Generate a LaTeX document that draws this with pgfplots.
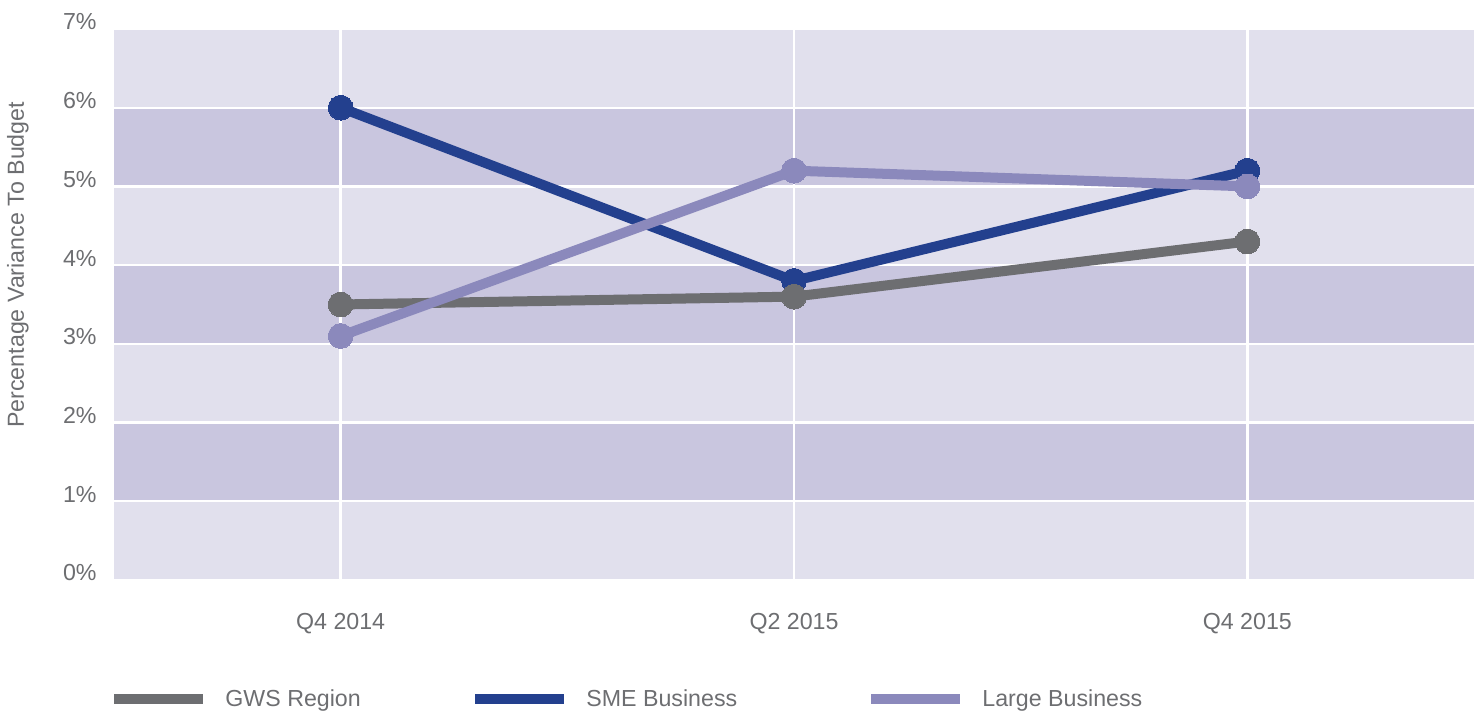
\documentclass[border=0pt]{standalone}
\usepackage{fontspec}
\setmainfont{Liberation Sans}
\usepackage{pgfplots}
\pgfplotsset{compat=1.18}
\usetikzlibrary{calc}
\definecolor{gws}{HTML}{6D6E71}
\definecolor{sme}{HTML}{23408E}
\definecolor{large}{HTML}{8B89BC}
\definecolor{bandlight}{HTML}{E1E0ED}
\definecolor{banddark}{HTML}{C9C6DF}
\definecolor{txt}{HTML}{6D6E71}
\newcommand{\lfont}{\fontsize{11.6pt}{13pt}\selectfont}
\begin{document}
\begin{tikzpicture}
\begin{axis}[name=ax, set layers=standard, scale only axis,
  width=680pt, height=275.5pt,
  xmin=-0.5, xmax=2.5, ymin=0, ymax=7,
  xtick={0,1,2}, xticklabels={Q4 2014, Q2 2015, Q4 2015},
  ytick={0,1,2,3,4,5,6,7},
  yticklabels={0\%,1\%,2\%,3\%,4\%,5\%,6\%,7\%},
  major tick length=0pt, axis line style={draw=none},
  grid=major, grid style={white, line width=1.2pt},
  every tick label/.append style={font=\lfont, text=txt},
  yticklabel style={anchor=east, inner sep=0pt, xshift=-8.5pt, yshift=3.5pt},
  xticklabel style={anchor=base, inner sep=0pt, yshift=-25pt},
  ylabel={Percentage Variance To Budget},
  ylabel style={at={(axis description cs:-0.0706,0.572)}, anchor=center, font=\lfont, text=txt},
  legend columns=3,
  legend cell align=left,
  legend image code/.code={\draw[#1, line width=5pt] (0pt,0.3pt) -- (44.5pt,0.3pt);},
  legend style={at={(axis description cs:0,-0.2178)}, anchor=west, xshift=-2.5pt, draw=none, fill=none,
    inner sep=0pt, column sep=0pt, row sep=0pt,
    nodes={inner sep=0pt, text=txt, font=\lfont}},
]
\begin{pgfonlayer}{axis background}
\fill[bandlight] (axis cs:-0.5,0) rectangle (axis cs:2.5,1);
\fill[banddark]  (axis cs:-0.5,1) rectangle (axis cs:2.5,2);
\fill[bandlight] (axis cs:-0.5,2) rectangle (axis cs:2.5,3);
\fill[banddark]  (axis cs:-0.5,3) rectangle (axis cs:2.5,4);
\fill[bandlight] (axis cs:-0.5,4) rectangle (axis cs:2.5,5);
\fill[banddark]  (axis cs:-0.5,5) rectangle (axis cs:2.5,6);
\fill[bandlight] (axis cs:-0.5,6) rectangle (axis cs:2.5,7);
\end{pgfonlayer}

\addlegendimage{gws}
\addlegendentry{\makebox[131pt][l]{\hspace*{8.5pt}GWS Region}}
\addlegendimage{sme}
\addlegendentry{\makebox[148.5pt][l]{\hspace*{8.5pt}SME Business}}
\addlegendimage{large}
\addlegendentry{\hspace*{8.5pt}Large Business}

\addplot[sme, line width=5pt, line join=round, mark=*, mark size=6.2pt, mark options={solid, fill=sme, draw=sme, line width=0pt}, forget plot]
  coordinates {(0,6.0) (1,3.8) (2,5.2)};
\addplot[gws, line width=5pt, line join=round, mark=*, mark size=6.2pt, mark options={solid, fill=gws, draw=gws, line width=0pt}, forget plot]
  coordinates {(0,3.5) (1,3.6) (2,4.3)};
\addplot[large, line width=5pt, line join=round, mark=*, mark size=6.2pt, mark options={solid, fill=large, draw=large, line width=0pt}, forget plot]
  coordinates {(0,3.1) (1,5.2) (2,5.0)};
\end{axis}
\pgfresetboundingbox
\path ($(ax.south west)+(-57pt,-67.5pt)$) rectangle ($(ax.north east)+(3.5pt,14.5pt)$);
\end{tikzpicture}
\end{document}
